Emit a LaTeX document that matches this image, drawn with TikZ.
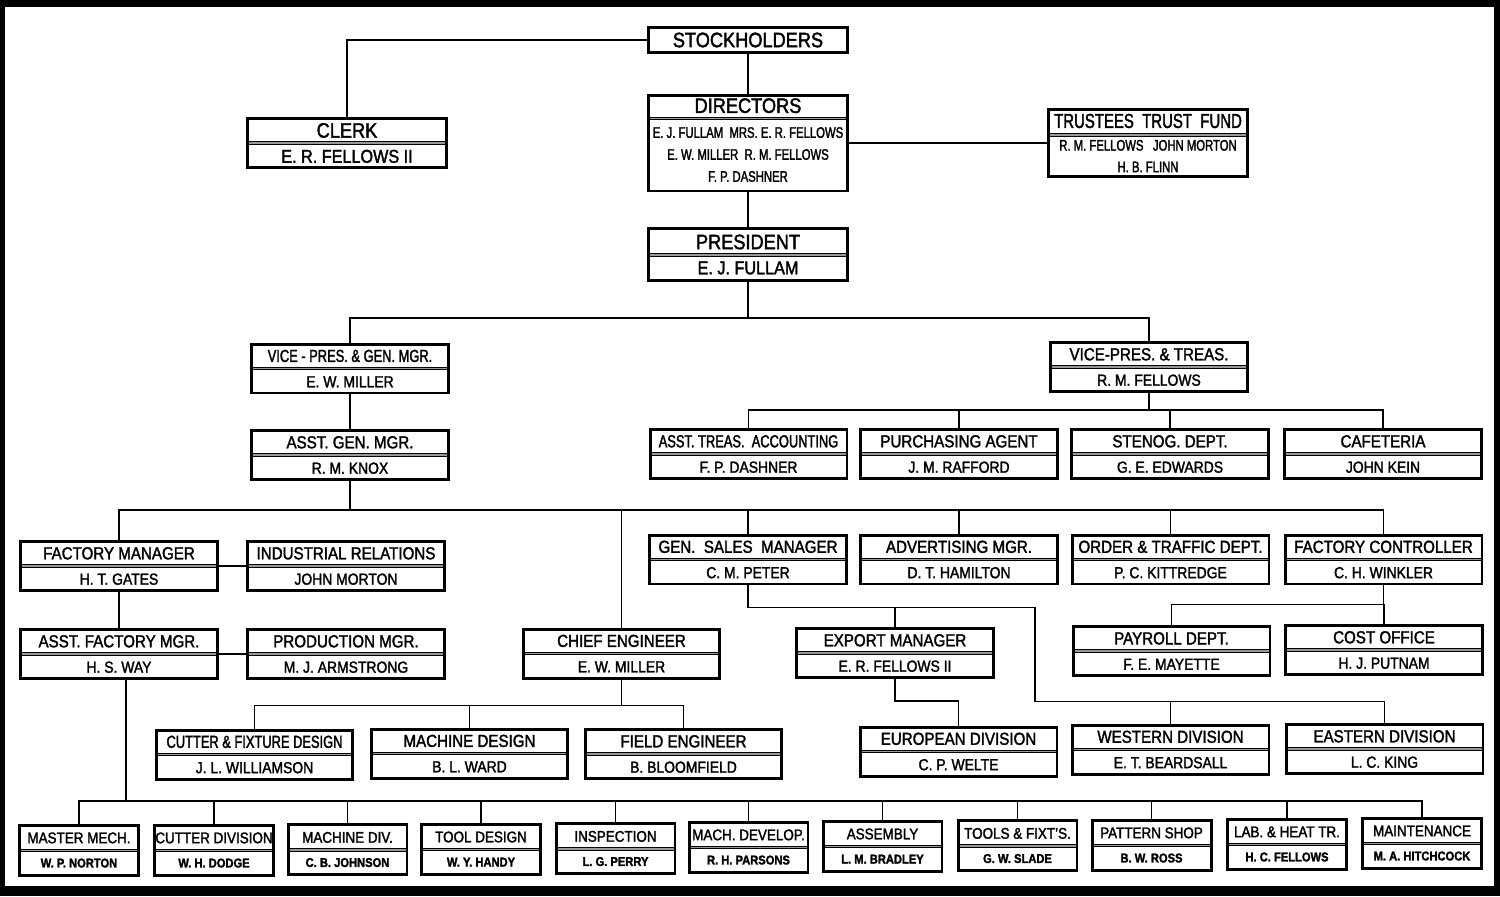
\documentclass[tikz,border=0pt]{standalone}
\usepackage{fontspec}
\setmainfont[FakeStretch=0.87, FakeBold=1.8]{Liberation Sans}
\newfontfamily\tightfont[FakeStretch=0.74, FakeBold=1.8]{Liberation Sans}
\newcommand\namefont{}
\newcommand\nm[1]{{\namefont #1}}
\tikzset{
  post/.style={draw, line width=1.7pt, fill=white, inner sep=0pt, align=center,
    minimum width=3.94cm, minimum height=0.98cm,
    font=\fontsize{9.9}{14.45}\selectfont\def\namefont{\fontsize{9.1}{11}\selectfont}},
  head/.style={post, minimum width=3.98cm,
    font=\fontsize{11.9}{14.3}\selectfont\def\namefont{\fontsize{10.6}{12}\selectfont}},
  shop/.style={post, minimum width=2.38cm, minimum height=1cm, split=0.51cm,
    font=\fontsize{8.8}{13.8}\selectfont\def\namefont{\bfseries\fontsize{7.3}{8}\selectfont}},
  split/.style={path picture={\draw[line width=0.6pt, double=black!40, double distance=1pt]
    ([yshift=-#1]path picture bounding box.north west) -- ([yshift=-#1]path picture bounding box.north east);}},
  split/.default=0.49cm,
  link/.style={line width=1.1pt}
}
\begin{document}
\begin{tikzpicture}[x=0.02cm, y=-0.02cm]
  \fill[black] (0,0) rectangle (1500,896);
  \fill[white] (5,7) rectangle (1494,886);
  % top of the company
  \draw
    (748,40) node[head, minimum height=0.5cm] (stock) {STOCKHOLDERS}
    (347,143) node[head, split] (clerk) {CLERK\\\nm{E. R. FELLOWS II}}
    (748,143) node[head, split=0.47cm, minimum height=1.92cm,
      font=\fontsize{11.9}{12.5}\selectfont\def\namefont{\tightfont\fontsize{8.7}{10}\selectfont}] (dir)
      {DIRECTORS\\[1.7pt]\nm{E. J. FULLAM~~MRS. E. R. FELLOWS}\\\nm{E. W. MILLER~~R. M. FELLOWS}\\\nm{F. P. DASHNER}\\[-9.1pt]\mbox{}}
    (1148,143) node[head, split=0.51cm, minimum height=1.34cm,
      font=\tightfont\fontsize{11.5}{12.9}\selectfont\def\namefont{\tightfont\fontsize{8.7}{10}\selectfont}] (trust)
      {TRUSTEES~~TRUST~~FUND\\\nm{R. M. FELLOWS~~~JOHN MORTON}\\[-0.6pt]\nm{H. B. FLINN}}
    (748,254.5) node[head, split=0.53cm, minimum height=1.04cm] (pres) {PRESIDENT\\\nm{E. J. FULLAM}};
  % officers and departments
  \draw
    (350,368.5) node[post, split] (vpgm) {{\tightfont VICE - PRES. \& GEN. MGR.}\\\nm{E. W. MILLER}}
    (1149,367) node[post, split] (vptr) {VICE-PRES. \& TREAS.\\\nm{R. M. FELLOWS}}
    (350,455) node[post, split] (agm) {ASST. GEN. MGR.\\\nm{R. M. KNOX}}
    (748.5,454) node[post, split] (atr) {{\tightfont ASST. TREAS.~~ACCOUNTING}\\\nm{F. P. DASHNER}}
    (959,454) node[post, split] (purch) {PURCHASING AGENT\\\nm{J. M. RAFFORD}}
    (1170,454) node[post, split] (steno) {STENOG. DEPT.\\\nm{G. E. EDWARDS}}
    (1383,454) node[post, split] (caf) {CAFETERIA\\\nm{JOHN KEIN}}
    (119,566) node[post, split] (fm) {FACTORY MANAGER\\\nm{H. T. GATES}}
    (346,566) node[post, split] (ir) {INDUSTRIAL RELATIONS\\\nm{JOHN MORTON}}
    (748,559.5) node[post, split] (gsm) {GEN.~~SALES~~MANAGER\\\nm{C. M. PETER}}
    (959,559.5) node[post, split] (adv) {ADVERTISING MGR.\\\nm{D. T. HAMILTON}}
    (1170.5,559.5) node[post, split] (ord) {ORDER \& TRAFFIC DEPT.\\\nm{P. C. KITTREDGE}}
    (1383.5,559.5) node[post, split] (fc) {FACTORY CONTROLLER\\\nm{C. H. WINKLER}}
    (119,654) node[post, split] (afm) {ASST. FACTORY MGR.\\\nm{H. S. WAY}}
    (346,654) node[post, split] (pm) {PRODUCTION MGR.\\\nm{M. J. ARMSTRONG}}
    (621.5,653.5) node[post, split] (chief) {CHIEF ENGINEER\\\nm{E. W. MILLER}}
    (895,653) node[post, split] (export) {EXPORT MANAGER\\\nm{E. R. FELLOWS II}}
    (1171.5,651) node[post, split] (payroll) {PAYROLL DEPT.\\\nm{F. E. MAYETTE}}
    (1384,650) node[post, split] (cost) {COST OFFICE\\\nm{H. J. PUTNAM}}
    (254.5,754.5) node[post, split] (cfd) {{\tightfont CUTTER \& FIXTURE DESIGN}\\\nm{J. L. WILLIAMSON}}
    (469.5,753.5) node[post, split] (md) {MACHINE DESIGN\\\nm{B. L. WARD}}
    (683.5,754) node[post, split] (fe) {FIELD ENGINEER\\\nm{B. BLOOMFIELD}}
    (958.5,751.5) node[post, split] (euro) {EUROPEAN DIVISION\\\nm{C. P. WELTE}}
    (1170.5,749.5) node[post, split] (west) {WESTERN DIVISION\\\nm{E. T. BEARDSALL}}
    (1384.5,749) node[post, split] (east) {EASTERN DIVISION\\\nm{L. C. KING}};
  % shops
  \draw
    (79,850) node[shop] (mm) {MASTER MECH.\\\nm{W. P. NORTON}}
    (214,850) node[shop] (cutdiv) {CUTTER DIVISION\\\nm{W. H. DODGE}}
    (347.5,849.5) node[shop] (machdiv) {MACHINE DIV.\\\nm{C. B. JOHNSON}}
    (481,849) node[shop] (tooldes) {TOOL DESIGN\\\nm{W. Y. HANDY}}
    (615.5,848.5) node[shop] (insp) {INSPECTION\\\nm{L. G. PERRY}}
    (748.5,847) node[shop] (machdev) {MACH. DEVELOP.\\\nm{R. H. PARSONS}}
    (882.5,846) node[shop] (assy) {ASSEMBLY\\\nm{L. M. BRADLEY}}
    (1017.5,845.5) node[shop] (tools) {TOOLS \& FIXT'S.\\\nm{G. W. SLADE}}
    (1151.5,845) node[shop] (pattern) {PATTERN SHOP\\\nm{B. W. ROSS}}
    (1287,844) node[shop] (lab) {LAB. \& HEAT TR.\\\nm{H. C. FELLOWS}}
    (1422,843) node[shop] (maint) {MAINTENANCE\\\nm{M. A. HITCHCOCK}};
  \begin{scope}[link]
    \draw (stock) -- (dir);
    \draw (stock.west) -| (clerk.north);
    \draw (dir.east) -- (trust.west);
    \draw (dir) -- (pres);
    \draw (pres.south) -- ++(0,36) -| (vpgm.north);
    \draw (pres.south) -- ++(0,36) -| (vptr.north);
    \draw (vpgm) -- (agm);
    \draw (vptr.south) -- ++(0,17) -| (atr.north);
    \draw (vptr.south) -- ++(0,17) -| (purch.north);
    \draw (vptr.south) -- ++(0,17) -| (steno.north);
    \draw (vptr.south) -- ++(0,17) -| (caf.north);
    \draw (agm.south) -- ++(0,29) -| (fm.north);
    \draw (agm.south) -- ++(0,29) -| (chief.north);
    \draw (agm.south) -- ++(0,29) -| (gsm.north);
    \draw (agm.south) -- ++(0,29) -| (adv.north);
    \draw (agm.south) -- ++(0,29) -| (ord.north);
    \draw (agm.south) -- ++(0,29) -| (fc.north);
    \draw (fm.east) -- (ir.west);
    \draw (fm) -- (afm);
    \draw (afm.east) -- (pm.west);
    \draw ([xshift=0.14cm]afm.south) -- ++(0,121) -| (mm.north);
    \draw ([xshift=0.14cm]afm.south) -- ++(0,121) -| (cutdiv.north);
    \draw ([xshift=0.14cm]afm.south) -- ++(0,121) -| (machdiv.north);
    \draw ([xshift=0.14cm]afm.south) -- ++(0,121) -| (tooldes.north);
    \draw ([xshift=0.14cm]afm.south) -- ++(0,121) -| (insp.north);
    \draw ([xshift=0.14cm]afm.south) -- ++(0,121) -| (machdev.north);
    \draw ([xshift=0.14cm]afm.south) -- ++(0,121) -| (assy.north);
    \draw ([xshift=0.14cm]afm.south) -- ++(0,121) -| (tools.north);
    \draw ([xshift=0.14cm]afm.south) -- ++(0,121) -| (pattern.north);
    \draw ([xshift=0.14cm]afm.south) -- ++(0,121) -| (lab.north);
    \draw ([xshift=0.14cm]afm.south) -- ++(0,121) -| (maint.north);
    \draw (chief.south) -- ++(0,26) -| (cfd.north);
    \draw (chief.south) -- ++(0,26) -| (md.north);
    \draw (chief.south) -- ++(0,26) -| (fe.north);
    \draw (gsm.south) -- ++(0,22) -| (export.north);
    \draw (gsm.south) -- ++(0,22) -- ++(287,0) -- ++(0,94) -| (west.north);
    \draw (gsm.south) -- ++(0,22) -- ++(287,0) -- ++(0,94) -| (east.north);
    \draw (export.south) -- ++(0,22) -| (euro.north);
    \draw (fc.south) -- ++(0,19) -| (payroll.north);
    \draw (fc.south) -- ++(0,19) -| (cost.north);
  \end{scope}
\end{tikzpicture}
\end{document}
